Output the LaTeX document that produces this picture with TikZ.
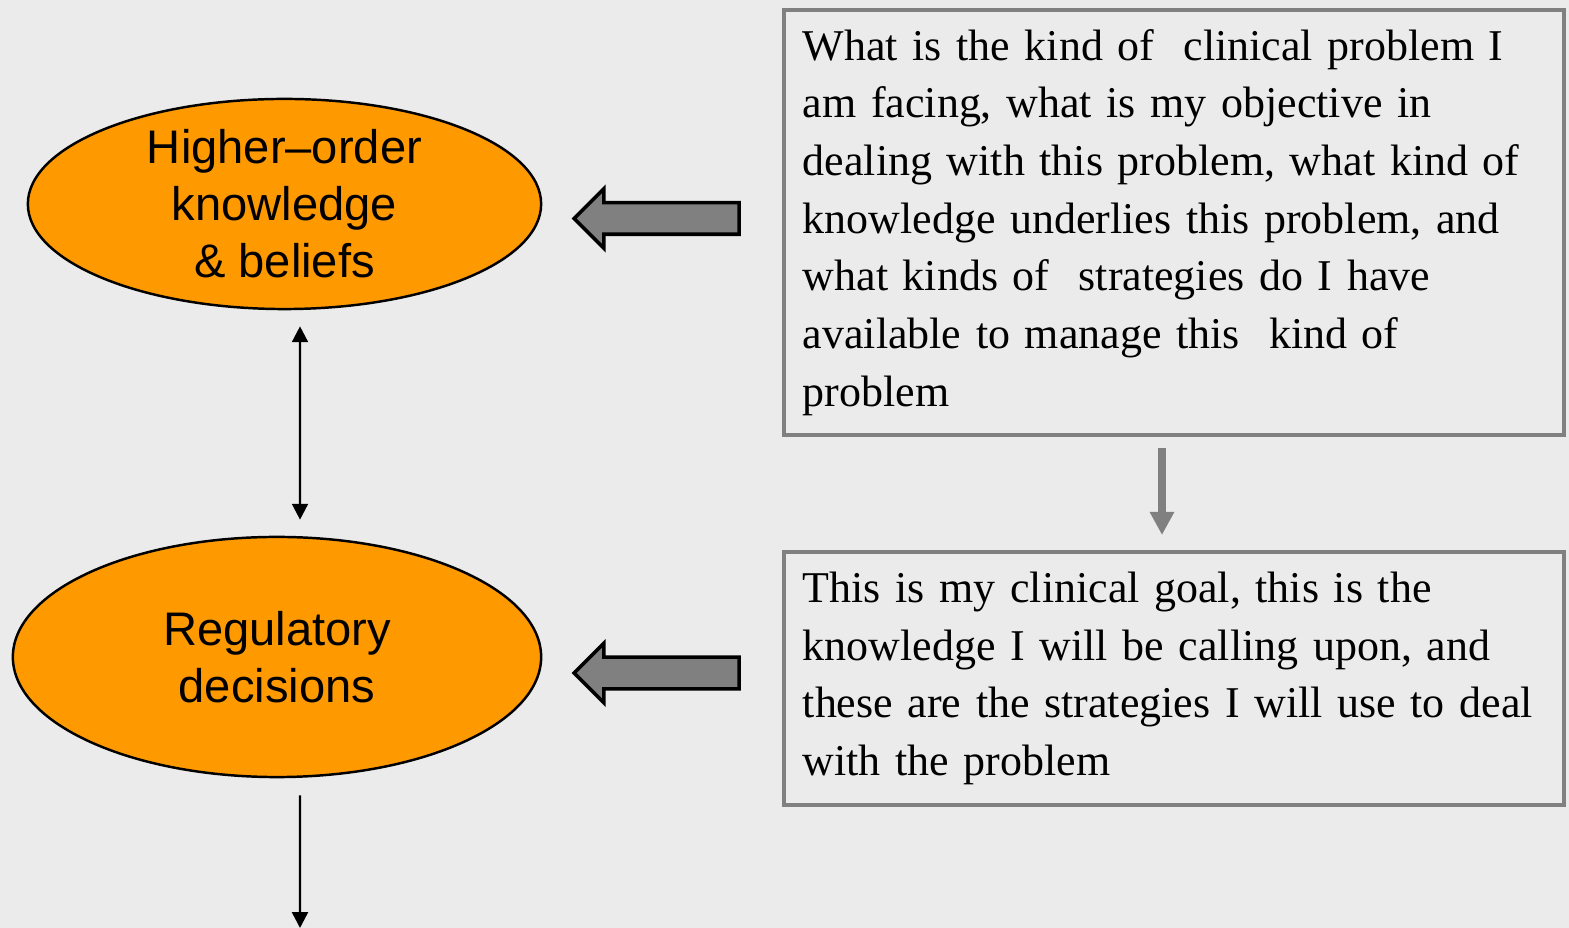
\documentclass[tikz,border=0pt]{standalone}
\usepackage{fontspec}
\setmainfont{Liberation Serif}
\newfontfamily\ovalfont{Liberation Sans}
\usetikzlibrary{arrows.meta, shapes.geometric, shapes.arrows}
\definecolor{ovalorange}{RGB}{255,153,0}
\definecolor{framegray}{RGB}{128,128,128}
\definecolor{paper}{RGB}{235,235,235}

\begin{document}
\begin{tikzpicture}[x=0.01cm, y=-0.01cm,
  bubble/.style={ellipse, draw=black, line width=0.7pt, fill=ovalorange, inner xsep=0pt,
                 inner ysep=-2pt, align=center, font=\ovalfont\fontsize{13.4}{16.2}\selectfont},
  note/.style={rectangle, draw=framegray, line width=1.1pt, minimum width=7.8cm,
               text width=7.42cm, inner xsep=0.19cm, align=left,
               font=\fontsize{12.5}{16.4}\selectfont},
  blockarr/.style={single arrow, draw=black, fill=framegray, line width=1pt,
                   single arrow head extend=0.14cm, single arrow head indent=0pt,
                   minimum height=1.65cm, inner xsep=0pt, inner ysep=0.14cm,
                   shape border rotate=180},
  linkarr/.style={line width=0.7pt, -{Triangle[width=4.5pt,length=4.5pt]}},
  bothtips/.style={line width=0.7pt,
                   {Triangle[width=4.5pt,length=4.5pt]}-{Triangle[width=4.5pt,length=4.5pt]}},
  flowarr/.style={draw=framegray, line width=2.2pt, -{Triangle[width=6.6pt,length=6.6pt]}}]
\fill[paper] (0,0) rectangle (1569,928);
\useasboundingbox (0,0) rectangle (1569,928);
\node[bubble, minimum width=5.13cm, minimum height=2.1cm] (h) at (284.5,204)
  {Higher\textendash order\\ knowledge\\ \& beliefs};
\node[bubble, minimum width=5.28cm, minimum height=2.4cm] (r) at (277,657)
  {Regulatory\\ decisions};
\node[note, minimum height=4.25cm] (q) at (1174,222.5)
  {What is the kind of\ \ clinical problem I\\
   am facing, what is my objective in\\
   dealing with this problem, what kind of\\
   knowledge underlies this problem, and\\
   what kinds of\ \ strategies do I have\\
   available to manage this\ \ kind of\\
   problem};
\node[note, minimum height=2.53cm] (a) at (1174,678.5)
  {This is my clinical goal, this is the\\
   knowledge I will be calling upon, and\\
   these are the strategies I will use to deal\\
   with the problem};
\node[blockarr] (u) at (664.5,218.5) {};
\node[blockarr] (l) at (664.5,673) {};
\coordinate (sink) at (300,928);
\draw[bothtips]
  ([xshift=0.155cm, yshift=-0.16cm]h.south) -- ([xshift=0.23cm, yshift=0.16cm]r.north);
\draw[linkarr] ([xshift=0.23cm, yshift=-0.17cm]r.south) -- (sink);
\draw[flowarr] ([xshift=-0.12cm, yshift=-0.11cm]q.south) -- ([xshift=-0.12cm, yshift=0.15cm]a.north);
\end{tikzpicture}
\end{document}
